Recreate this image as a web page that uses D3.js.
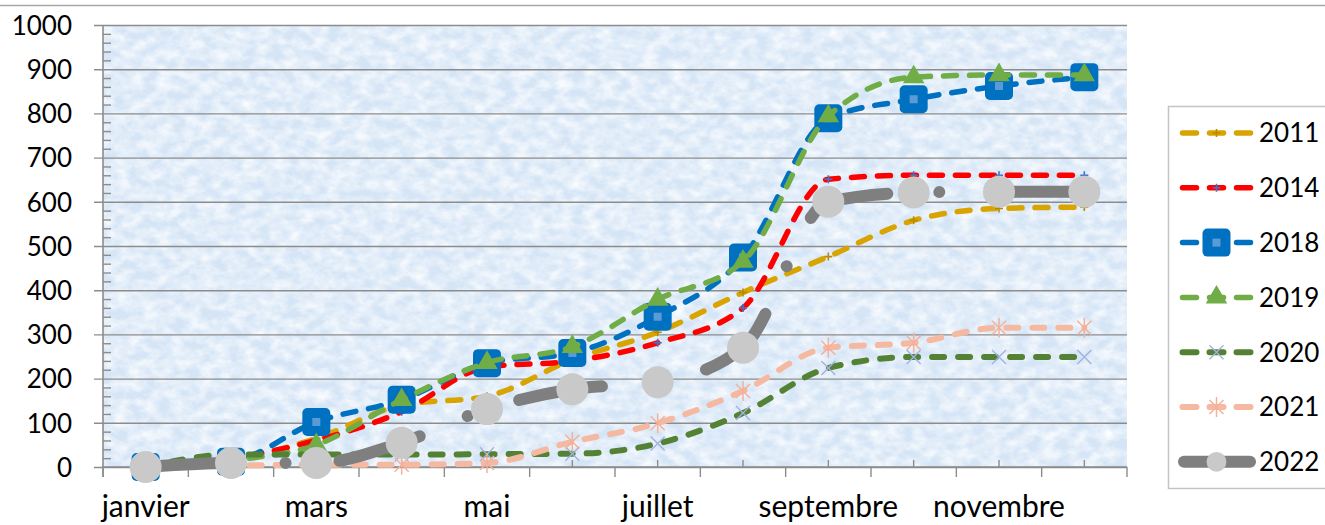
<!DOCTYPE html>
<html>
<head>
<meta charset="utf-8">
<script src="https://cdn.jsdelivr.net/npm/d3@7"></script>
<style>
    body { margin: 0; background: #fff; }
    svg text { font-family: Lato, "Open Sans", sans-serif; font-size: 26px; fill: #000; }
    svg .labels-x text { font-size: 30px; }
</style>
</head>
<body>
<svg class="chart"></svg>
<script>
// data
var months = ['janvier', 'février', 'mars', 'avril', 'mai', 'juin', 'juillet', 'août', 'septembre', 'octobre', 'novembre', 'décembre'];
var yTicks = [0, 100, 200, 300, 400, 500, 600, 700, 800, 900, 1000];
var years = ['2011', '2014', '2018', '2019', '2020', '2021', '2022'];

var v2011 = [0, 15, 65, 140, 160, 243, 305, 395, 476, 558, 585, 588];
var v2014 = [0, 20, 60, 125, 226, 240, 281, 360, 651, 660, 660, 660];
var v2018 = [0, 12, 102, 152, 235, 258, 340, 474, 789, 832, 862, 882];
var v2019 = [0, 15, 50, 152, 236, 272, 379, 465, 794, 882, 887, 887];
var v2020 = [0, 28, 28, 28, 29, 30, 53, 122, 224, 249, 249, 249];
var v2021 = [0, 3, 5, 5, 9, 57, 99, 172, 270, 281, 315, 315];
var v2022 = [0, 9, 9, 55, 131, 176, 192, 270, 600, 621, 623, 623];

var values = [v2011, v2014, v2018, v2019, v2020, v2021, v2022];

// styles per series
var styles = [
    {stroke: '#d9a300', width: 5.5, dash: '13,13', marker: 'plus', mColor: '#b88a00'},
    {stroke: '#ff0000', width: 5.5, dash: '13,13', marker: 'plus', mColor: '#4472c4'},
    {stroke: '#0070c0', width: 5.5, dash: '13,13', marker: 'square', mColor: '#0070c0'},
    {stroke: '#70ad47', width: 5.5, dash: '13,13', marker: 'triangle', mColor: '#70ad47'},
    {stroke: '#548235', width: 6, dash: '12,14', marker: 'x', mColor: '#a3b0e2'},
    {stroke: '#f5b9a2', width: 6, dash: '12,14', marker: 'star', mColor: '#f5b09a'},
    {stroke: '#7f7f7f', width: 12, dash: '84,52,0.01,54', offset: -4, marker: 'circle', mColor: '#c9c9c9'}
];

var config = {
    width: 1325,
    height: 525,
    plot: {left: 103, right: 1127, top: 25, bottom: 467}
};

var svg = d3.select('svg.chart')
    .attr('width', config.width)
    .attr('height', config.height);

var defs = svg.append('defs');
var filter = defs.append('filter').attr('id', 'paper')
    .attr('x', 0).attr('y', 0).attr('width', '100%').attr('height', '100%');
filter.append('feTurbulence')
    .attr('type', 'fractalNoise')
    .attr('baseFrequency', '0.07 0.1')
    .attr('numOctaves', 4)
    .attr('seed', 7);
filter.append('feColorMatrix')
    .attr('type', 'matrix')
    .attr('values', '0 0 0 0 1  0 0 0 0 1  0 0 0 0 1  1.5 0 0 0 -0.45');

var p = config.plot;
var plotW = p.right - p.left;
var plotH = p.bottom - p.top;

var x = d3.scaleBand().domain(months).range([p.left, p.right]);
var y = d3.scaleLinear().domain([0, 1000]).range([p.bottom, p.top]);
var cx = function(m){ return x(m) + x.bandwidth() / 2; };

// outer chart border (only the top edge shows)
svg.append('rect')
    .attr('x', -2).attr('y', 5.5)
    .attr('width', config.width + 4).attr('height', config.height + 10)
    .attr('fill', 'none').attr('stroke', '#a6a6a6').attr('stroke-width', 1.5);

// textured plot background
svg.append('rect')
    .attr('x', p.left).attr('y', p.top)
    .attr('width', plotW).attr('height', plotH)
    .attr('fill', '#d5e5f6');
svg.append('rect')
    .attr('x', p.left).attr('y', p.top)
    .attr('width', plotW).attr('height', plotH)
    .attr('filter', 'url(#paper)');

// gridlines + y labels
var gridAxis = d3.axisLeft(y)
    .tickValues(yTicks)
    .tickSize(plotW + 9)
    .tickPadding(22)
    .tickFormat(d3.format('d'));

svg.append('g').attr('class', 'axis-y')
    .attr('transform', 'translate(' + p.right + ',0)')
    .call(gridAxis)
    .call(function(g){
        g.select('.domain').remove();
        g.selectAll('line').attr('stroke', '#8c8c8c').attr('stroke-width', 1.4);
        g.selectAll('text')
            .attr('font-family', null).attr('font-size', null)
            .attr('dy', '0.36em');
    });

// minor y ticks, inside
var minorY = d3.range(0, 1001, 20).filter(function(d){ return d % 100 !== 0; });
svg.append('g').attr('class', 'minor-y')
    .attr('transform', 'translate(' + p.left + ',0)')
    .call(d3.axisRight(y).tickValues(minorY).tickSize(8).tickFormat(''))
    .call(function(g){
        g.select('.domain').remove();
        g.selectAll('line').attr('stroke', '#8c8c8c').attr('stroke-width', 1.4);
    });

// x axis: major ticks at category edges, minor at centers
var edges = d3.range(months.length + 1).map(function(i){ return p.left + i * x.bandwidth(); });
svg.append('g').attr('class', 'ticks-x')
    .selectAll('line')
    .data(edges)
    .enter().append('line')
    .attr('x1', function(d){ return d; }).attr('x2', function(d){ return d; })
    .attr('y1', p.bottom).attr('y2', p.bottom + 10)
    .attr('stroke', '#8c8c8c').attr('stroke-width', 1.4);

svg.append('g').attr('class', 'minor-x')
    .selectAll('line')
    .data(months)
    .enter().append('line')
    .attr('x1', cx).attr('x2', cx)
    .attr('y1', p.bottom - 7).attr('y2', p.bottom)
    .attr('stroke', '#8c8c8c').attr('stroke-width', 1.4);

svg.append('g').attr('class', 'labels-x')
    .selectAll('text')
    .data(months.filter(function(d, i){ return i % 2 === 0; }))
    .enter().append('text')
    .attr('x', cx)
    .attr('y', 517)
    .attr('text-anchor', 'middle')
    .text(function(d){ return d; });

// axis lines
svg.append('line')
    .attr('x1', p.left).attr('x2', p.left)
    .attr('y1', p.top).attr('y2', p.bottom + 10)
    .attr('stroke', '#8c8c8c').attr('stroke-width', 1.6);
svg.append('line')
    .attr('x1', p.left).attr('x2', p.right)
    .attr('y1', p.bottom).attr('y2', p.bottom)
    .attr('stroke', '#8c8c8c').attr('stroke-width', 1.6);

// markers
var drawMarker = function(g, st, size){
    var s = size || 1;
    if(st.marker === 'plus'){
        g.append('path').attr('d', 'M-4,0H4M0,-4V4')
            .attr('stroke', st.mColor).attr('stroke-width', 1.6).attr('fill', 'none');
    } else if(st.marker === 'square'){
        g.append('rect').attr('x', -14).attr('y', -14).attr('width', 28).attr('height', 28)
            .attr('rx', 5).attr('fill', st.mColor);
        g.append('rect').attr('x', -4 * s).attr('y', -4 * s).attr('width', 8 * s).attr('height', 8 * s)
            .attr('fill', '#5b9bd5');
    } else if(st.marker === 'triangle'){
        g.append('path').attr('d', d3.symbol(d3.symbolTriangle, 200)())
            .attr('fill', st.mColor);
    } else if(st.marker === 'x'){
        g.append('path').attr('d', 'M-7,-7L7,7M-7,7L7,-7')
            .attr('stroke', st.mColor).attr('stroke-width', 1.4).attr('fill', 'none');
    } else if(st.marker === 'star'){
        g.append('path').attr('d', 'M-7,-7L7,7M-7,7L7,-7M0,-10V10')
            .attr('stroke', st.mColor).attr('stroke-width', 1.5).attr('fill', 'none');
    } else if(st.marker === 'circle'){
        g.append('circle').attr('r', 16 * s).attr('fill', st.mColor);
    }
};

var line = d3.line()
    .x(function(d, i){ return cx(months[i]); })
    .y(function(d){ return y(d); })
    .curve(d3.curveMonotoneX);

var layers = svg.append('g').attr('class', 'series')
    .selectAll('g.layer')
    .data(values)
    .enter().append('g').attr('class', 'layer');

layers.each(function(vals, k){
    var st = styles[k];
    var layer = d3.select(this);

    layer.append('path')
        .attr('d', line(vals))
        .attr('fill', 'none')
        .attr('stroke', st.stroke)
        .attr('stroke-width', st.width)
        .attr('stroke-linecap', 'round')
        .attr('stroke-dasharray', st.dash)
        .attr('stroke-dashoffset', st.offset || 0);

    layer.selectAll('g.marker')
        .data(vals)
        .enter().append('g').attr('class', 'marker')
        .attr('transform', function(d, i){ return 'translate(' + [cx(months[i]), y(d)] + ')'; })
        .each(function(){ drawMarker(d3.select(this), st); });
});

// legend
var legend = svg.append('g').attr('class', 'legend');
legend.append('rect')
    .attr('x', 1168.5).attr('y', 106.5)
    .attr('width', 170).attr('height', 382)
    .attr('fill', '#fff').attr('stroke', '#c4c4c4').attr('stroke-width', 1.5);

var items = legend.selectAll('g.item')
    .data(years)
    .enter().append('g').attr('class', 'item')
    .attr('transform', function(d, i){ return 'translate(0,' + (133 + i * 54.8) + ')'; });

items.each(function(d, k){
    var st = styles[k];
    var item = d3.select(this);
    if(st.marker === 'circle'){
        item.append('line').attr('x1', 1184).attr('x2', 1250)
            .attr('stroke', st.stroke).attr('stroke-width', 12).attr('stroke-linecap', 'round');
    } else {
        item.append('line').attr('x1', 1182.5).attr('x2', 1250.5)
            .attr('stroke', st.stroke).attr('stroke-width', st.width)
            .attr('stroke-linecap', 'round').attr('stroke-dasharray', '14,13');
    }
    var m = item.append('g').attr('transform', 'translate(1216.5,0)');
    drawMarker(m, st, st.marker === 'circle' ? 0.62 : 1);
    item.append('text').attr('x', 1259).attr('dy', '0.36em').text(d);
});
</script>
</body>
</html>
